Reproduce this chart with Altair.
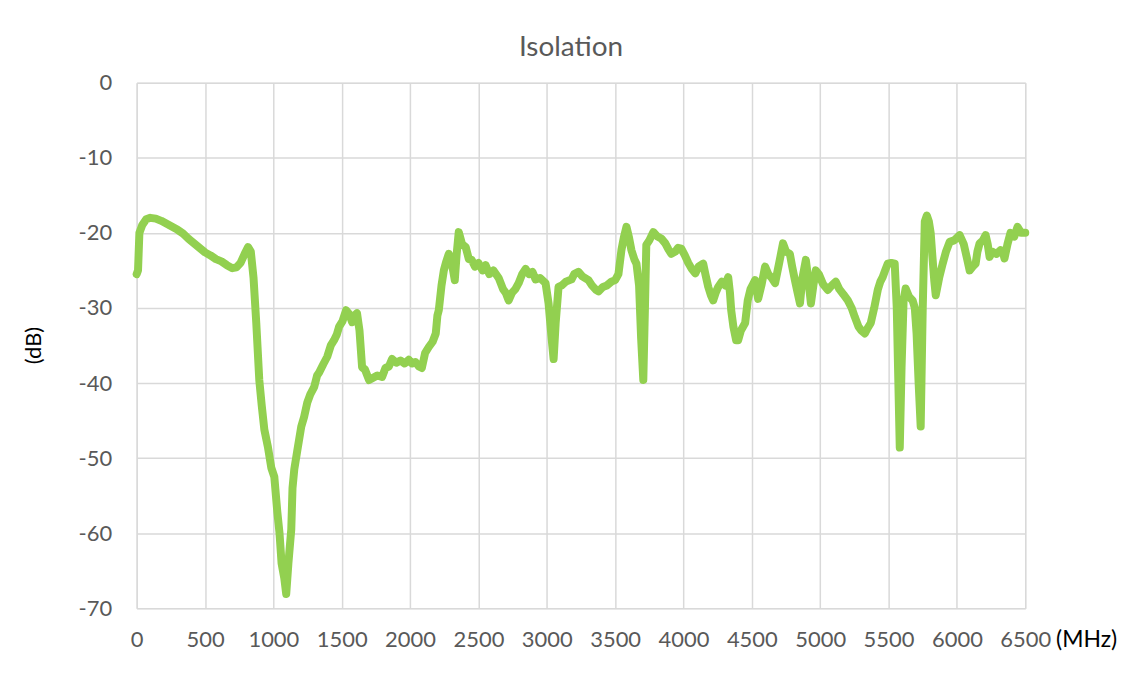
import altair as alt
import pandas as pd

# Frequency (MHz) and isolation (dB)
freq_mhz = [
    0, 10, 20, 40, 70, 100, 140, 180, 220, 260, 300, 340, 380, 420, 460, 500, 540, 580, 620, 660,
    700, 730, 760, 790, 815, 835, 855, 875, 897, 915, 934, 960, 985, 1007, 1029, 1045, 1060, 1080,
    1094, 1110, 1131, 1140, 1153, 1175, 1204, 1225, 1248, 1270, 1299, 1320, 1335, 1365, 1394, 1420,
    1444, 1465, 1481, 1505, 1532, 1555, 1576, 1595, 1612, 1630, 1649, 1670, 1700, 1730, 1760, 1795,
    1820, 1845, 1868, 1900, 1930, 1960, 1991, 2014, 2040, 2064, 2086, 2110, 2137, 2165, 2188, 2200,
    2210, 2230, 2247, 2265, 2283, 2300, 2327, 2340, 2356, 2380, 2407, 2430, 2451, 2475, 2500, 2530,
    2553, 2580, 2610, 2648, 2680, 2700, 2721, 2745, 2770, 2794, 2820, 2845, 2870, 2895, 2918, 2950,
    2991, 3013, 3035, 3050, 3065, 3086, 3110, 3140, 3181, 3200, 3232, 3260, 3305, 3330, 3360, 3378,
    3410, 3440, 3473, 3500, 3524, 3546, 3565, 3583, 3600, 3619, 3640, 3656, 3675, 3690, 3706, 3718,
    3728, 3750, 3779, 3810, 3840, 3867, 3890, 3911, 3940, 3960, 3984, 4010, 4035, 4060, 4086, 4110,
    4144, 4160, 4181, 4200, 4217, 4235, 4254, 4280, 4305, 4327, 4340, 4349, 4365, 4385, 4400, 4420,
    4451, 4470, 4490, 4510, 4524, 4546, 4570, 4597, 4620, 4645, 4670, 4700, 4728, 4750, 4778, 4795,
    4815, 4835, 4852, 4870, 4895, 4915, 4932, 4950, 4968, 4990, 5020, 5056, 5085, 5114, 5140, 5170,
    5202, 5230, 5253, 5280, 5300, 5326, 5350, 5370, 5395, 5421, 5440, 5457, 5475, 5494, 5520, 5545,
    5560, 5582, 5595, 5610, 5625, 5650, 5676, 5692, 5705, 5720, 5735, 5750, 5765, 5780, 5795, 5808,
    5820, 5835, 5845, 5870, 5896, 5920, 5947, 5980, 6020, 6050, 6075, 6093, 6115, 6137, 6150, 6166,
    6190, 6210, 6225, 6239, 6260, 6290, 6319, 6335, 6348, 6370, 6392, 6420, 6443, 6470, 6500,
]
isolation_db = [
    -25.5, -25.0, -20.0, -19.0, -18.2, -18.0, -18.1, -18.4, -18.8, -19.2, -19.6, -20.1, -20.8, -21.4,
    -22.0, -22.6, -23.0, -23.5, -23.8, -24.3, -24.7, -24.6, -24.0, -22.8, -21.9, -22.5, -26.0, -32.0,
    -39.6, -43.0, -46.2, -48.5, -51.3, -52.5, -57.2, -60.0, -64.0, -66.0, -68.1, -64.0, -59.5, -54.0,
    -51.5, -49.0, -45.8, -44.5, -42.6, -41.5, -40.5, -39.0, -38.6, -37.5, -36.5, -35.0, -34.3, -33.5,
    -32.5, -31.8, -30.3, -30.8, -31.9, -31.0, -30.7, -33.0, -37.9, -38.2, -39.6, -39.3, -39.0, -39.2,
    -38.0, -37.8, -36.8, -37.3, -37.0, -37.4, -36.9, -37.4, -37.2, -37.8, -38.0, -36.0, -35.2, -34.5,
    -33.4, -31.0, -30.3, -27.0, -25.0, -23.8, -22.8, -23.5, -26.3, -23.0, -19.9, -21.5, -21.9, -23.5,
    -23.6, -24.5, -24.0, -25.0, -24.3, -25.5, -25.0, -26.0, -27.5, -28.0, -29.0, -28.0, -27.5, -26.7,
    -25.5, -24.8, -25.5, -25.2, -26.2, -26.0, -26.7, -29.4, -34.0, -36.8, -32.0, -27.2, -27.0, -26.5,
    -26.2, -25.5, -25.2, -25.8, -26.3, -27.0, -27.6, -27.8, -27.2, -27.0, -26.5, -26.3, -25.5, -22.3,
    -20.5, -19.2, -20.5, -22.3, -23.5, -24.1, -27.0, -34.0, -39.6, -30.0, -21.6, -21.0, -19.9, -20.5,
    -20.8, -21.4, -22.2, -22.8, -22.5, -22.0, -22.1, -23.0, -24.0, -24.8, -25.4, -24.5, -24.1, -25.5,
    -27.2, -28.3, -29.0, -28.0, -27.2, -26.5, -27.0, -25.9, -28.0, -30.3, -32.5, -34.3, -34.3, -33.0,
    -32.0, -29.0, -27.5, -26.8, -26.3, -28.8, -27.0, -24.5, -25.5, -26.0, -26.7, -24.0, -21.4, -22.5,
    -22.8, -24.5, -26.3, -28.0, -29.4, -26.0, -23.6, -26.5, -29.4, -27.0, -25.0, -25.5, -26.8, -27.6,
    -27.0, -26.5, -27.5, -28.2, -29.0, -30.0, -31.2, -32.5, -33.0, -33.4, -32.6, -32.0, -30.0, -27.6,
    -26.5, -25.9, -25.0, -24.1, -24.0, -24.1, -30.0, -48.6, -38.0, -29.0, -27.4, -28.5, -29.0, -30.0,
    -33.4, -40.0, -45.8, -30.0, -18.5, -17.7, -18.5, -20.0, -23.0, -26.5, -28.3, -26.0, -24.1, -22.5,
    -21.2, -21.0, -20.3, -21.5, -23.5, -25.0, -24.5, -24.1, -22.5, -21.4, -21.0, -20.3, -21.5, -23.2,
    -22.5, -22.8, -22.3, -22.5, -23.4, -21.5, -20.0, -20.5, -19.2, -20.0, -20.0,
]

x_ticks = [0, 500, 1000, 1500, 2000, 2500, 3000, 3500, 4000, 4500, 5000, 5500, 6000, 6500]
y_ticks = [0, -10, -20, -30, -40, -50, -60, -70]

df = pd.DataFrame({"MHz": freq_mhz, "dB": isolation_db})

FONT = "Lato"
LABEL_COLOR = "#595959"

chart = (
    alt.Chart(df)
    .mark_line(color="#92D050", strokeWidth=8, strokeJoin="round", strokeCap="round")
    .encode(
        x=alt.X(
            "MHz:Q",
            scale=alt.Scale(domain=[0, 6500], nice=False, zero=False),
            axis=alt.Axis(
                values=x_ticks,
                title="(MHz)",
                titleFont=FONT,
                titleFontSize=23,
                titleFontWeight="normal",
                titleColor="#000000",
                titleAlign="center",
                titleBaseline="middle",
                titleX=952,
                titleY=31,
                labelFont=FONT,
                labelFontSize=22,
                labelColor=LABEL_COLOR,
                labelPadding=21,
                labelOverlap=False,
                labelFlush=False,
                labelBound=False,
                labelExpr="'' + datum.value",
                ticks=False,
                domain=False,
                grid=True,
                gridColor="#d9d9d9",
                gridWidth=1.5,
            ),
        ),
        y=alt.Y(
            "dB:Q",
            scale=alt.Scale(domain=[-70, 0], nice=False, zero=False),
            axis=alt.Axis(
                values=y_ticks,
                title="(dB)",
                titleFont=FONT,
                titleFontSize=22,
                titleFontWeight="normal",
                titleColor="#000000",
                titleAngle=-90,
                titleAlign="center",
                titleBaseline="middle",
                titleX=-103,
                titleY=263,
                labelFont=FONT,
                labelFontSize=22,
                labelColor=LABEL_COLOR,
                labelPadding=25,
                labelOverlap=False,
                labelFlush=False,
                labelBound=False,
                labelExpr="'' + datum.value",
                ticks=False,
                domain=False,
                grid=True,
                gridColor="#d9d9d9",
                gridWidth=1.5,
            ),
        ),
    )
    .properties(
        width=891,
        height=527,
        title=alt.TitleParams(
            text="Isolation",
            font=FONT,
            fontSize=28,
            fontWeight="normal",
            color=LABEL_COLOR,
            anchor="middle",
            frame="group",
            offset=10,
            dx=-10,
        ),
        padding={"left": 129, "top": 74, "right": 100, "bottom": 60},
        autosize=alt.AutoSizeParams(type="none"),
    )
    .configure_view(stroke=None)
    .configure(background="white")
)

chart.save("out.html", embed_options={"renderer": "svg", "actions": False})
